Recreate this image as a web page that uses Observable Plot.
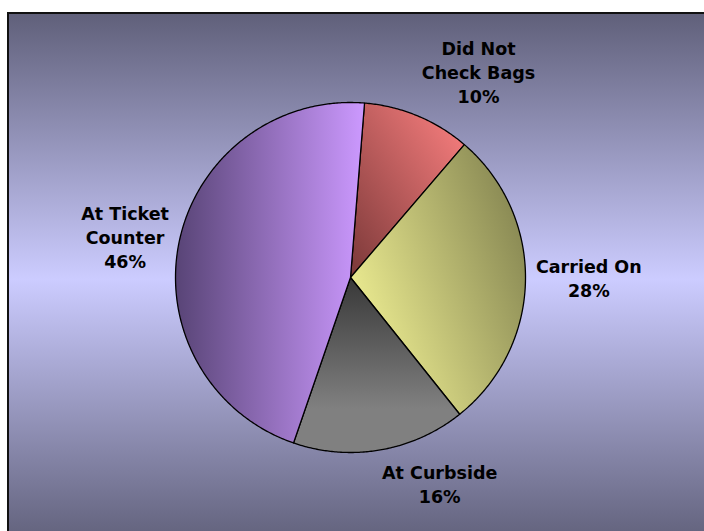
<!DOCTYPE html>
<html><head><meta charset="utf-8">
<script src="https://cdn.jsdelivr.net/npm/d3@7"></script>
<script src="https://cdn.jsdelivr.net/npm/@observablehq/plot@0.6"></script>
<style>
html,body{margin:0;padding:0;background:#fff;}
#wrap{position:relative;width:704px;height:531px;overflow:hidden;}
#bg{position:absolute;left:7px;top:12px;width:720px;height:530px;border-left:2px solid #111;border-top:2px solid #111;
  background:linear-gradient(to bottom,#60607a 0%,#ccccff 50%,#60607a 100%);}
#chart{position:absolute;left:0;top:0;}
</style></head><body>
<div id="wrap"><div id="bg"></div><div id="chart"></div></div>
<script>
// ---- data ----
const categories = ["Did Not\nCheck Bags", "Carried On", "At Curbside", "At Ticket\nCounter"];
const shares = [10, 28, 16, 46];
const startAngleDeg = 4.6;
// ---- styles ----
const sliceFills = ["url(#gRed)", "url(#gYellow)", "url(#gGray)", "url(#gPurple)"];
const fontSize = 17.5;
const fontFamily = "DejaVu Sans, Verdana, sans-serif";

const total = d3.sum(shares);
const start = startAngleDeg * Math.PI / 180;
let acc = 0;
const slices = categories.map((c, i) => {
  const a0 = start + acc / total * 2 * Math.PI;
  acc += shares[i];
  const a1 = start + acc / total * 2 * Math.PI;
  return {i, category: c, share: shares[i], a0, a1, mid: (a0 + a1) / 2};
});
const pts = [];
for (const s of slices) {
  pts.push({i: s.i, x: 0, y: 0});
  const n = Math.max(2, Math.ceil((s.a1 - s.a0) / (Math.PI / 360)));
  for (let k = 0; k <= n; k++) {
    const a = s.a0 + (s.a1 - s.a0) * k / n;
    pts.push({i: s.i, x: Math.sin(a), y: Math.cos(a)});
  }
}
// label layout: anchor point just outside the pie, box placed beside it, lines centred
const radiusPx = 175;
const ctx = document.createElement("canvas").getContext("2d");
ctx.font = `bold ${fontSize}px ${fontFamily}`;
const labelR = 1.06;
const labels = slices.map(s => {
  const sx = Math.sin(s.mid), cy = Math.cos(s.mid);
  const text = `${s.category}\n${Math.round(s.share / total * 100)}%`;
  const w = d3.max(text.split("\n"), t => ctx.measureText(t).width);
  const side = sx > 0.05 ? 1 : sx < -0.05 ? -1 : 0;
  return {
    text,
    x: sx * labelR + side * (w / 2) / radiusPx,
    y: cy * labelR,
    la: cy > 0.5 ? "bottom" : cy < -0.5 ? "top" : "middle"
  };
});
const anchors = Array.from(new Set(labels.map(d => d.la)));

const marks = [
  ...slices.map(s => Plot.line(pts.filter(p => p.i === s.i), {
    x: "x", y: "y", fill: sliceFills[s.i], stroke: "#000", strokeWidth: 1.3, curve: "linear-closed"
  })),
  ...anchors.map(la => Plot.text(labels.filter(d => d.la === la), {
    x: "x", y: "y", text: "text", textAnchor: "middle", lineAnchor: la,
    dy: la === "top" ? 2 : -3,
    fontSize, fontWeight: "bold", fontFamily, lineHeight: 1.37, fill: "#000"
  }))
];

const chart = Plot.plot({
  width: 704, height: 531,
  marginLeft: 175, marginRight: 179, marginTop: 102, marginBottom: 79,
  x: {domain: [-1, 1], axis: null},
  y: {domain: [-1, 1], axis: null},
  style: {background: "transparent", overflow: "visible"},
  marks
});
d3.select(chart).insert("defs", ":first-child").html(`
  <linearGradient id="gRed" x1="0" y1="1" x2="1" y2="0">
    <stop offset="0" stop-color="#7a3838"/><stop offset="1" stop-color="#ff8282"/>
  </linearGradient>
  <linearGradient id="gYellow" x1="0" y1="0.75" x2="1" y2="0.2">
    <stop offset="0" stop-color="#f4f496"/><stop offset="1" stop-color="#838350"/>
  </linearGradient>
  <linearGradient id="gGray" x1="0" y1="0" x2="0" y2="1">
    <stop offset="0" stop-color="#383838"/><stop offset="0.75" stop-color="#808080"/><stop offset="1" stop-color="#808080"/>
  </linearGradient>
  <linearGradient id="gPurple" x1="0" y1="0" x2="1" y2="0">
    <stop offset="0" stop-color="#584476"/><stop offset="1" stop-color="#cc99ff"/>
  </linearGradient>`);
document.getElementById("chart").appendChild(chart);
</script>
</body></html>
